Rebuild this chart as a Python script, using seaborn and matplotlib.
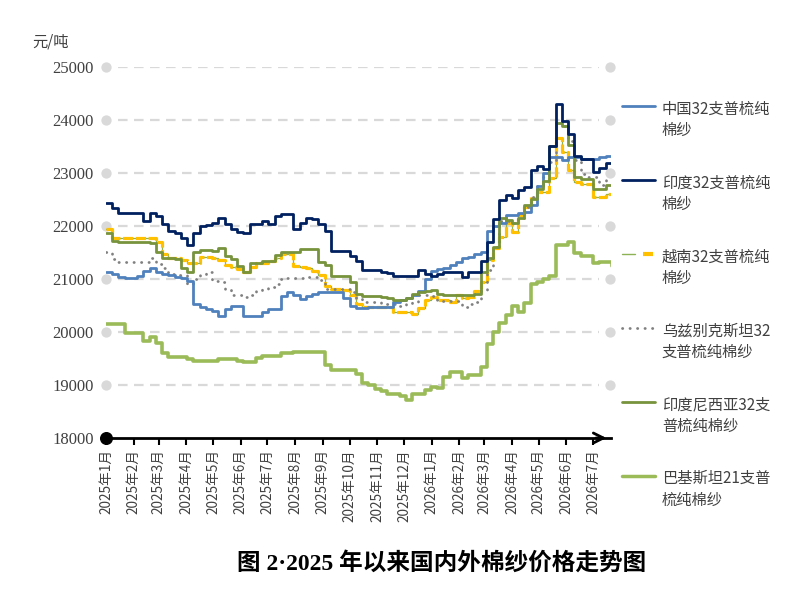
import numpy as np
import pandas as pd
import matplotlib
matplotlib.use("Agg")
import matplotlib.pyplot as plt
from matplotlib.lines import Line2D
from matplotlib.legend_handler import HandlerTuple
import seaborn as sns

sns.set_theme(style="white")
plt.rcParams["font.family"] = ["Noto Sans CJK SC", "DejaVu Sans"]
plt.rcParams["axes.unicode_minus"] = False

# weekly observation dates
dates = pd.date_range("2025-01-01", periods=82, freq="7D")

china = [21125, 21094, 21045, 21020, 21020, 21060, 21156, 21200, 21125, 21094,
         21080, 21045, 21020, 20970, 20530, 20480, 20440, 20400, 20310, 20440,
         20500, 20500, 20300, 20300, 20300, 20375, 20440, 20440, 20670, 20750,
         20700, 20625, 20680, 20720, 20760, 20760, 20750, 20750, 20650, 20500,
         20450, 20450, 20470, 20470, 20470, 20480, 20560, 20600, 20640, 20700,
         20780, 21000, 21150, 21190, 21200, 21270, 21320, 21400, 21420, 21470,
         21500, 21900, 22000, 22050, 22200, 22200, 22250, 22260, 22400, 22750,
         23000, 23300, 23300, 23240, 23300, 23300, 23270, 23270, 23270, 23310,
         23320, 23320]
india = [22440, 22340, 22250, 22250, 22250, 22250, 22100, 22250, 22190, 22030,
         21900, 21860, 21780, 21650, 21870, 22000, 22020, 22060, 22150, 22030,
         21940, 21890, 21875, 22030, 22030, 22090, 22030, 22190, 22230, 22230,
         21940, 22060, 22160, 22125, 22030, 21900, 21530, 21530, 21530, 21440,
         21340, 21170, 21170, 21170, 21125, 21110, 21060, 21060, 21060, 21060,
         21170, 21090, 21060, 21090, 21125, 21125, 21125, 21030, 21125, 21125,
         21340, 21700, 22140, 22490, 22580, 22520, 22675, 22740, 23050, 23140,
         23080, 23500, 24300, 23990, 23740, 23330, 23270, 23270, 23020, 23100,
         23190, 23190]
vietnam = [21940, 21770, 21770, 21770, 21770, 21770, 21770, 21770, 21700, 21480,
           21400, 21400, 21350, 21300, 21300, 21420, 21420, 21400, 21360, 21260,
           21220, 21180, 21125, 21220, 21300, 21300, 21340, 21390, 21480, 21480,
           21250, 21220, 21200, 21160, 21080, 20870, 20810, 20810, 20790, 20700,
           20530, 20470, 20470, 20470, 20470, 20470, 20375, 20375, 20375, 20340,
           20450, 20600, 20660, 20600, 20600, 20560, 20700, 20640, 20660, 20780,
           20950, 21360, 21580, 21800, 22050, 21890, 22200, 22360, 22520, 22640,
           22640, 22900, 23660, 23400, 23050, 22830, 22800, 22800, 22550, 22550,
           22610, 22610]
uzbek = [21500, 21380, 21330, 21330, 21330, 21330, 21330, 21400, 21280, 21200,
         21100, 21080, 21080, 20900, 21000, 21100, 21130, 20970, 20950, 20800,
         20700, 20700, 20660, 20700, 20780, 20810, 20850, 20900, 21000, 21020,
         21020, 21020, 21030, 21030, 20990, 20810, 20810, 20810, 20810, 20750,
         20625, 20560, 20560, 20560, 20540, 20530, 20520, 20500, 20530, 20560,
         20690, 20690, 20670, 20590, 20590, 20590, 20590, 20470, 20520, 20560,
         20800, 21175, 21600, 22100, 22100, 22050, 22150, 22360, 22550, 22750,
         22925, 23200, 23990, 23890, 23600, 23240, 22990, 22925, 22925, 22780,
         22860, 22860]
indonesia = [21875, 21720, 21700, 21700, 21700, 21700, 21700, 21670, 21500, 21400,
             21400, 21380, 21200, 21140, 21500, 21550, 21550, 21520, 21580, 21430,
             21380, 21250, 21125, 21310, 21310, 21340, 21340, 21450, 21500, 21500,
             21500, 21560, 21560, 21560, 21320, 21260, 21060, 21060, 21060, 20950,
             20720, 20680, 20670, 20670, 20660, 20650, 20600, 20600, 20650, 20720,
             20750, 20780, 20790, 20720, 20700, 20700, 20700, 20700, 20700, 20720,
             21125, 21400, 21610, 22150, 22120, 22050, 22150, 22390, 22500, 22700,
             22850, 23500, 23950, 23880, 23520, 22925, 22890, 22890, 22700, 22700,
             22770, 22770]
pakistan = [20150, 20150, 20150, 19980, 19980, 19980, 19830, 19910, 19800, 19600,
            19530, 19530, 19530, 19500, 19445, 19445, 19445, 19460, 19500, 19500,
            19500, 19460, 19440, 19440, 19510, 19540, 19540, 19540, 19610, 19610,
            19620, 19625, 19630, 19630, 19630, 19380, 19290, 19290, 19290, 19290,
            19200, 19040, 19000, 18920, 18880, 18830, 18830, 18800, 18720, 18830,
            18830, 18900, 18970, 18950, 19150, 19250, 19250, 19125, 19190, 19190,
            19340, 19770, 20000, 20175, 20330, 20490, 20380, 20550, 20900, 20950,
            21000, 21050, 21640, 21640, 21700, 21490, 21430, 21430, 21300, 21320,
            21320, 21250]

labels = ["中国32支普梳纯\n棉纱", "印度32支普梳纯\n棉纱", "越南32支普梳纯\n棉纱",
          "乌兹别克斯坦32\n支普梳纯棉纱", "印度尼西亚32支\n普梳纯棉纱", "巴基斯坦21支普\n梳纯棉纱"]
y_levels = [18000, 19000, 20000, 21000, 22000, 23000, 24000, 25000]
month_ticks = pd.date_range("2025-01-01", "2026-07-01", freq="MS")
title = "图 2·2025 年以来国内外棉纱价格走势图"

c_china, c_india, c_yellow, c_vn_thin = "#4F81BD", "#002060", "#FFC000", "#8DB255"
c_uz, c_indo, c_pak = "#808080", "#77933C", "#9BBB59"
grid_c = "#D9D9D9"

fig = plt.figure(figsize=(8.1, 5.94), dpi=100)
ax = fig.add_axes([106 / 810, 1 - 438 / 594, (611 - 106) / 810, (438 - 67) / 594])

t0 = pd.Timestamp("2025-01-01")
t_end = t0 + pd.Timedelta(days=566)
ax.set_xlim(t0, t_end)
ax.set_ylim(18000, 25000)

# dashed grid with end dots
ax.hlines(y_levels[1:], t0 + pd.Timedelta(days=13), t0 + pd.Timedelta(days=553),
          colors=grid_c, lw=1.6, linestyles=(0, (4.3, 2.9)), zorder=1)
ax.scatter([t0] * 7, y_levels[1:], s=55, color=grid_c, clip_on=False, zorder=2, linewidths=0)
ax.scatter([t0 + pd.Timedelta(days=565)] * 7, y_levels[1:], s=55, color=grid_c,
           clip_on=False, zorder=2, linewidths=0)

kw = dict(ax=ax, drawstyle="steps-post", legend=False)
sns.lineplot(x=dates, y=china, color=c_china, lw=2.0, zorder=5, **kw)
sns.lineplot(x=dates, y=india, color=c_india, lw=2.0, zorder=6, **kw)
sns.lineplot(x=dates, y=vietnam, color=c_vn_thin, lw=0.9, zorder=4, **kw)
sns.lineplot(x=dates, y=vietnam, color=c_yellow, lw=2.3, zorder=4,
             linestyle=(0, (3.2, 0.8)), **kw)
sns.lineplot(x=dates, y=uzbek, color=c_uz, lw=2.0, zorder=4,
             linestyle=(0, (0.1, 2.6)), dash_capstyle="round", **kw)
sns.lineplot(x=dates, y=indonesia, color=c_indo, lw=2.0, zorder=5, **kw)
sns.lineplot(x=dates, y=pakistan, color=c_pak, lw=2.6, zorder=5, **kw)

# axis styling
for s in ["left", "top", "right"]:
    ax.spines[s].set_visible(False)
ax.spines["bottom"].set_color("black")
ax.spines["bottom"].set_linewidth(2)
ax.spines["bottom"].set_zorder(7)
ax.scatter([t0], [18000], s=70, color="black", clip_on=False, zorder=8)
ax.annotate("", xy=(t_end - pd.Timedelta(days=2), 18000),
            xytext=(t_end - pd.Timedelta(days=20), 18000),
            arrowprops=dict(arrowstyle="->", lw=2, color="black", mutation_scale=18),
            annotation_clip=False, zorder=8)

ax.set_yticks(y_levels)
ax.set_yticklabels([str(v) for v in y_levels], fontsize=12, color="#404040")
ax.tick_params(axis="y", length=0, pad=9)
ax.set_xticks(month_ticks)
ax.set_xticklabels([f"{d.year}年{d.month}月" for d in month_ticks], rotation=90,
                   fontsize=9.8, color="#404040")
ax.tick_params(axis="x", direction="out", length=5, width=1.5, color="black", pad=3,
               bottom=True)
ax.set_xlabel("")
ax.set_ylabel("")
ax.grid(False)
for lab in ax.get_yticklabels():
    lab.set_fontfamily(["Liberation Serif", "DejaVu Serif"])

fig.text(32 / 810, 1 - 42 / 594, "元/吨", fontsize=11, color="#404040", va="center")
fig.text(442 / 810, 1 - 563 / 594, title, fontsize=17, fontweight="bold",
         ha="center", va="center", color="black",
         family=["Liberation Serif", "Noto Sans CJK SC"])

handles = [
    Line2D([], [], color=c_china, lw=2),
    Line2D([], [], color=c_india, lw=2),
    (Line2D([], [], color=c_vn_thin, lw=1),
     Line2D([], [], color=c_yellow, marker="_", markersize=7, mew=3, linestyle="None")),
    Line2D([], [], color=c_uz, lw=2, linestyle=(0, (0.1, 2.6)), dash_capstyle="round"),
    Line2D([], [], color=c_indo, lw=2),
    Line2D([], [], color=c_pak, lw=2.5),
]
leg = ax.legend(handles, labels, loc="upper left", bbox_to_anchor=(608 / 810, 1 - 87 / 594),
                bbox_transform=fig.transFigure, frameon=False, fontsize=11,
                handlelength=2.16, handletextpad=0.46, labelspacing=2.33, numpoints=1,
                handler_map={tuple: HandlerTuple(ndivide=None)})
for t in leg.get_texts():
    t.set_color("#404040")
    t.set_linespacing(1.33)
# align each legend handle with the first text line
for col in leg._legend_handle_box.get_children():
    for item in col.get_children():
        item.align = "top"

fig.savefig("out.png", dpi=100)
